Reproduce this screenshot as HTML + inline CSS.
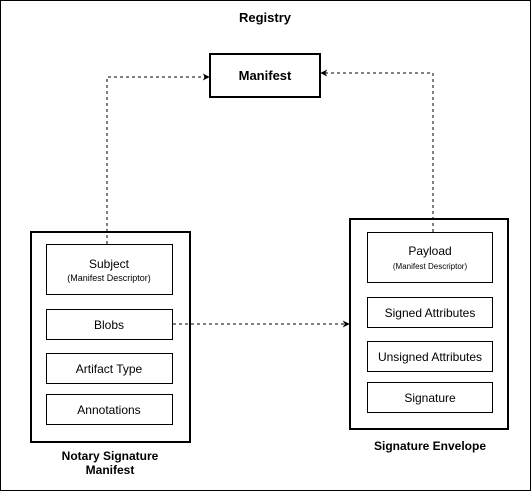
<!DOCTYPE html>
<html><head><meta charset="utf-8"><style>
body{margin:0;background:#fff}
svg text{font-family:"Liberation Sans",Arial,sans-serif;fill:#000}
</style></head><body>
<svg width="531" height="491" viewBox="0 0 531 491" xmlns="http://www.w3.org/2000/svg">
<defs><marker id="a" viewBox="0 0 10 10" refX="9" refY="5" markerWidth="7" markerHeight="7" orient="auto" markerUnits="userSpaceOnUse"><path d="M0,0 L10,5 L0,10 L3,5 Z" fill="#000"/></marker></defs>
<rect x="0.5" y="0.5" width="530" height="490" fill="#fff" stroke="#000"/>
<text x="265" y="22" font-size="13" font-weight="bold" text-anchor="middle">Registry</text>
<rect x="210" y="54" width="110" height="43" fill="#fff" stroke="#000" stroke-width="2"/>
<text x="265" y="80" font-size="13" font-weight="bold" text-anchor="middle">Manifest</text>
<g fill="none" stroke="#000" stroke-dasharray="3,3">
<path d="M107,244 V77 H209" marker-end="url(#a)"/>
<path d="M433,232 V73 H321" marker-end="url(#a)"/>
<path d="M173,324 H349" marker-end="url(#a)"/>
</g>
<rect x="31" y="232" width="159" height="210" fill="none" stroke="#000" stroke-width="2"/>
<g fill="#fff" stroke="#000">
<rect x="46.5" y="244.5" width="126" height="50"/>
<rect x="46.5" y="309.5" width="126" height="30"/>
<rect x="46.5" y="353.5" width="126" height="30"/>
<rect x="46.5" y="394.5" width="126" height="30"/>
</g>
<rect x="350" y="219" width="158" height="210" fill="none" stroke="#000" stroke-width="2"/>
<g fill="#fff" stroke="#000">
<rect x="367.5" y="232.5" width="125" height="50"/>
<rect x="367.5" y="297.5" width="125" height="30"/>
<rect x="367.5" y="341.5" width="125" height="30"/>
<rect x="367.5" y="382.5" width="125" height="30"/>
</g>
<g font-size="12" text-anchor="middle">
<text x="109" y="268">Subject</text>
<text x="109" y="281" font-size="9">(Manifest Descriptor)</text>
<text x="109" y="329">Blobs</text>
<text x="109" y="373">Artifact Type</text>
<text x="109" y="414">Annotations</text>
<text x="430" y="255">Payload</text>
<text x="430" y="269" font-size="8">(Manifest Descriptor)</text>
<text x="430" y="317">Signed Attributes</text>
<text x="430" y="361">Unsigned Attributes</text>
<text x="430" y="402">Signature</text>
</g>
<g font-size="12" font-weight="bold" text-anchor="middle">
<text x="110" y="460">Notary Signature</text>
<text x="110" y="474">Manifest</text>
<text x="430" y="450">Signature Envelope</text>
</g>
</svg>
</body></html>
